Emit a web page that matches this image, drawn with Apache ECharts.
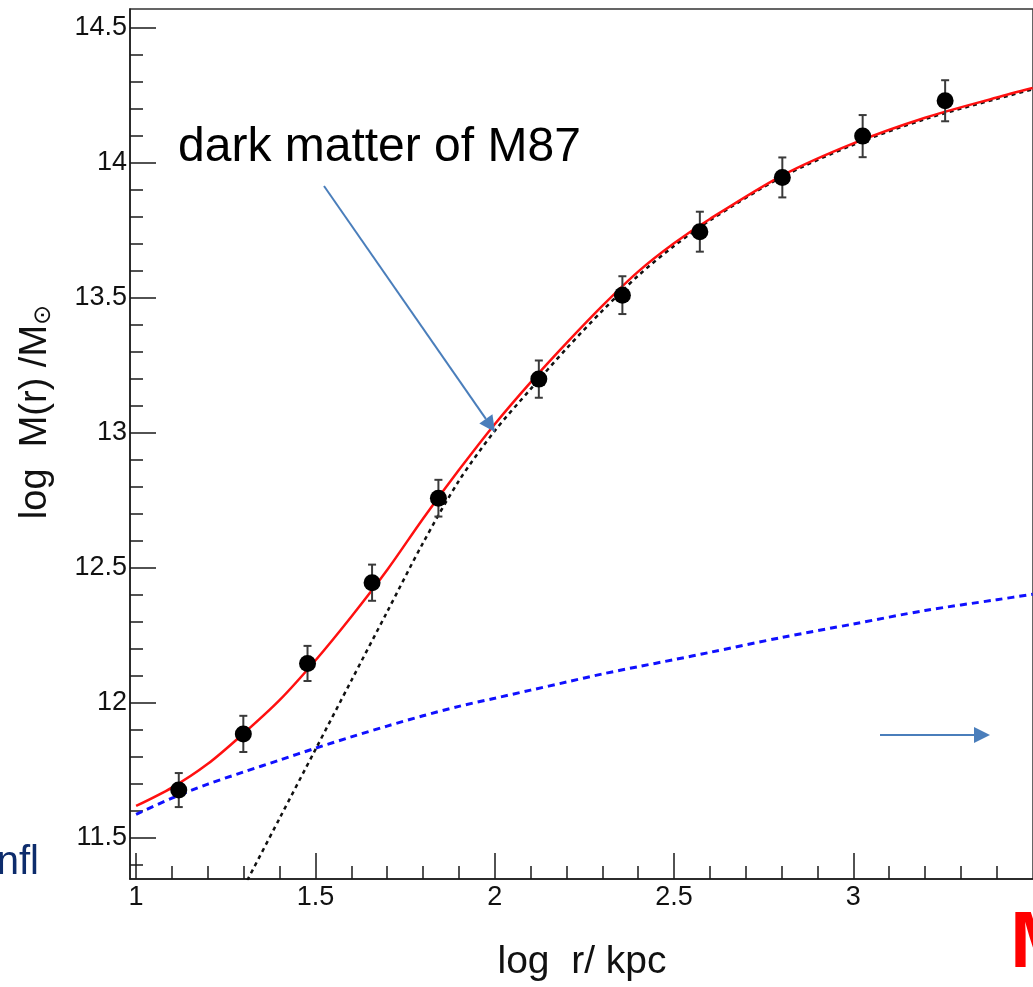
<!DOCTYPE html>
<html>
<head>
<meta charset="utf-8">
<script src="https://cdn.jsdelivr.net/npm/echarts@6/dist/echarts.min.js"></script>
<style>
  html, body { margin: 0; padding: 0; background: #ffffff; }
  #chart { width: 1033px; height: 987px; }
</style>
</head>
<body>
<div id="chart"></div>
<script>
// Enclosed mass profile of M87: measured points and fitted components
const radius   = [1.119, 1.299, 1.478, 1.658, 1.843, 2.123, 2.356, 2.572, 2.802, 3.026, 3.256];
const massObs  = [11.675, 11.883, 12.144, 12.443, 12.756, 13.197, 13.508, 13.743, 13.944, 14.097, 14.228];
const massErr  = [0.063, 0.067, 0.065, 0.067, 0.068, 0.069, 0.070, 0.074, 0.074, 0.078, 0.076];

// total fit (red) and stellar component (blue), sampled on the same radii
const fitR     = [1.0, 1.1, 1.2, 1.3, 1.4, 1.5, 1.6, 1.7, 1.8, 1.9, 2.0, 2.1, 2.2, 2.3, 2.4, 2.5, 2.6, 2.8, 3.0, 3.2, 3.4, 3.5];
const totalFit = [11.616, 11.684, 11.772, 11.885, 12.008, 12.155, 12.317, 12.49, 12.68, 12.86, 13.03, 13.185, 13.33, 13.468, 13.595, 13.70, 13.79, 13.95, 14.07, 14.165, 14.24, 14.275];
const starFit  = [11.585, 11.645, 11.697, 11.742, 11.786, 11.83, 11.872, 11.912, 11.95, 11.985, 12.015, 12.045, 12.075, 12.105, 12.132, 12.158, 12.185, 12.24, 12.29, 12.34, 12.38, 12.40];

// dark matter component (black dotted)
const dmR      = [1.3, 1.4, 1.5, 1.6, 1.7, 1.8, 1.9, 2.0, 2.1, 2.2, 2.3, 2.4, 2.5, 2.6, 2.8, 3.0, 3.2, 3.4, 3.5];
const dmFit    = [11.315, 11.57, 11.825, 12.08, 12.335, 12.59, 12.82, 13.005, 13.16, 13.31, 13.45, 13.58, 13.69, 13.785, 13.945, 14.065, 14.16, 14.235, 14.27];

// axis ticks
const xMajor = [1, 1.5, 2, 2.5, 3];
const xMinor = [1.1, 1.2, 1.3, 1.4, 1.6, 1.7, 1.8, 1.9, 2.1, 2.2, 2.3, 2.4, 2.6, 2.7, 2.8, 2.9, 3.1, 3.2, 3.3, 3.4];
const yMajor = [11.5, 12, 12.5, 13, 13.5, 14, 14.5];
const yMinor = [11.4, 11.6, 11.7, 11.8, 11.9, 12.1, 12.2, 12.3, 12.4, 12.6, 12.7, 12.8, 12.9,
                13.1, 13.2, 13.3, 13.4, 13.6, 13.7, 13.8, 13.9, 14.1, 14.2, 14.3, 14.4];

const FONT = '"Liberation Sans", Arial, Helvetica, sans-serif';
const AX = '#1a1a1a';
const ARROW = '#4a7ebb';

const zip = (a, b) => a.map((v, i) => [v, b[i]]);

function arrow(x1, y1, x2, y2, head, half) {
  const dx = x2 - x1, dy = y2 - y1, L = Math.hypot(dx, dy);
  const ux = dx / L, uy = dy / L;
  const bx = x2 - ux * head, by = y2 - uy * head;
  return [
    { type: 'line', shape: { x1: x1, y1: y1, x2: bx, y2: by },
      style: { stroke: ARROW, lineWidth: 2 }, z: 50 },
    { type: 'polygon', shape: { points: [[x2, y2], [bx - uy * half, by + ux * half], [bx + uy * half, by - ux * half]] },
      style: { fill: ARROW }, z: 50 }
  ];
}

const chart = echarts.init(document.getElementById('chart'), null, { renderer: 'canvas' });

const axisCommon = { type: 'value', splitLine: { show: false } };
const labelStyle = { fontSize: 27, color: '#111', fontFamily: FONT, showMinLabel: true, showMaxLabel: true, hideOverlap: false };

chart.setOption({
  animation: false,
  backgroundColor: '#ffffff',
  grid: { left: 130, top: 9, right: -8, bottom: 108, show: true, borderColor: '#333', borderWidth: 1.5, backgroundColor: 'transparent' },
  xAxis: [
    Object.assign({}, axisCommon, {
      min: 0.983, max: 3.501, position: 'bottom',
      axisLine: { show: true, onZero: false, lineStyle: { color: AX, width: 1.5 } },
      axisTick: { show: true, inside: true, length: 26, customValues: xMajor, lineStyle: { color: AX, width: 1.5 } },
      axisLabel: Object.assign({ show: true, customValues: xMajor, margin: 5 }, labelStyle)
    }),
    Object.assign({}, axisCommon, {
      min: 0.983, max: 3.501, position: 'bottom',
      axisLine: { show: false, onZero: false },
      axisTick: { show: true, inside: true, length: 13, customValues: xMinor, lineStyle: { color: AX, width: 1.5 } },
      axisLabel: { show: false }
    })
  ],
  yAxis: [
    Object.assign({}, axisCommon, {
      min: 11.3456, max: 14.5678, position: 'left',
      axisLine: { show: true, onZero: false, lineStyle: { color: AX, width: 1.5 } },
      axisTick: { show: true, inside: true, length: 26, customValues: yMajor, lineStyle: { color: AX, width: 1.5 } },
      axisLabel: Object.assign({ show: true, customValues: yMajor, margin: 3 }, labelStyle)
    }),
    Object.assign({}, axisCommon, {
      min: 11.3456, max: 14.5678, position: 'left',
      axisLine: { show: false, onZero: false },
      axisTick: { show: true, inside: true, length: 13, customValues: yMinor, lineStyle: { color: AX, width: 1.5 } },
      axisLabel: { show: false }
    })
  ],
  series: [
    {
      name: 'stellar', type: 'line', data: zip(fitR, starFit), smooth: 0.3, symbol: 'none', clip: true,
      lineStyle: { color: '#1010ff', width: 3, type: [7, 5] }, z: 3
    },
    {
      name: 'dark matter', type: 'line', data: zip(dmR, dmFit), smooth: 0.3, symbol: 'none', clip: true,
      lineStyle: { color: '#111111', width: 2.5, type: [4, 4] }, z: 4
    },
    {
      name: 'total', type: 'line', data: zip(fitR, totalFit), smooth: 0.3, symbol: 'none', clip: true,
      lineStyle: { color: '#ff1010', width: 2.5 }, z: 5
    },
    {
      name: 'error', type: 'custom', z: 6,
      data: radius.map((r, i) => [r, massObs[i], massErr[i]]),
      renderItem: function (params, api) {
        const x = api.value(0), y = api.value(1), e = api.value(2);
        const lo = api.coord([x, y - e]), hi = api.coord([x, y + e]);
        const w = 4;
        const st = { stroke: '#3a3a3a', lineWidth: 2 };
        return { type: 'group', children: [
          { type: 'line', shape: { x1: lo[0], y1: lo[1], x2: hi[0], y2: hi[1] }, style: st },
          { type: 'line', shape: { x1: lo[0] - w, y1: lo[1], x2: lo[0] + w, y2: lo[1] }, style: st },
          { type: 'line', shape: { x1: hi[0] - w, y1: hi[1], x2: hi[0] + w, y2: hi[1] }, style: st }
        ] };
      }
    },
    {
      name: 'data', type: 'scatter', data: zip(radius, massObs), symbol: 'circle', symbolSize: 17,
      itemStyle: { color: '#000000', opacity: 1 }, z: 7
    }
  ],
  graphic: [
    { type: 'text', x: 178, y: 148, z: 50,
      style: { text: 'dark matter of M87', font: '48px ' + FONT, fill: '#000', textAlign: 'left', textVerticalAlign: 'middle', align: 'left', verticalAlign: 'middle' } },
    { type: 'text', x: 582, y: 962, z: 50,
      style: { text: 'log  r/ kpc', font: '39px ' + FONT, fill: '#111', textAlign: 'center', textVerticalAlign: 'middle', align: 'center', verticalAlign: 'middle' } },
    { type: 'text', x: 36, y: 412, rotation: Math.PI / 2, z: 50,
      style: { text: '{m|log  M(r) /M}{s|⊙}', textAlign: 'center', textVerticalAlign: 'middle', align: 'center', verticalAlign: 'middle',
               rich: { m: { fontSize: 38, fontFamily: FONT, fill: '#111', color: '#111' },
                       s: { fontSize: 24, fontFamily: '"DejaVu Sans", ' + FONT, fill: '#111', color: '#111', padding: [16, 0, 0, 0] } } } },
    { type: 'text', x: 39, y: 863, z: 50,
      style: { text: 'nfl', font: '40px ' + FONT, fill: '#0d2c6c', textAlign: 'right', textVerticalAlign: 'middle', align: 'right', verticalAlign: 'middle' } },
    { type: 'text', x: 1010, y: 945, z: 50,
      style: { text: 'M', font: 'bold 80px ' + FONT, fill: '#ff0000', textAlign: 'left', textVerticalAlign: 'middle', align: 'left', verticalAlign: 'middle' } }
  ].concat(arrow(324, 186, 495, 432, 16, 8), arrow(880, 735, 990, 735, 16, 8))
});
</script>
</body>
</html>
